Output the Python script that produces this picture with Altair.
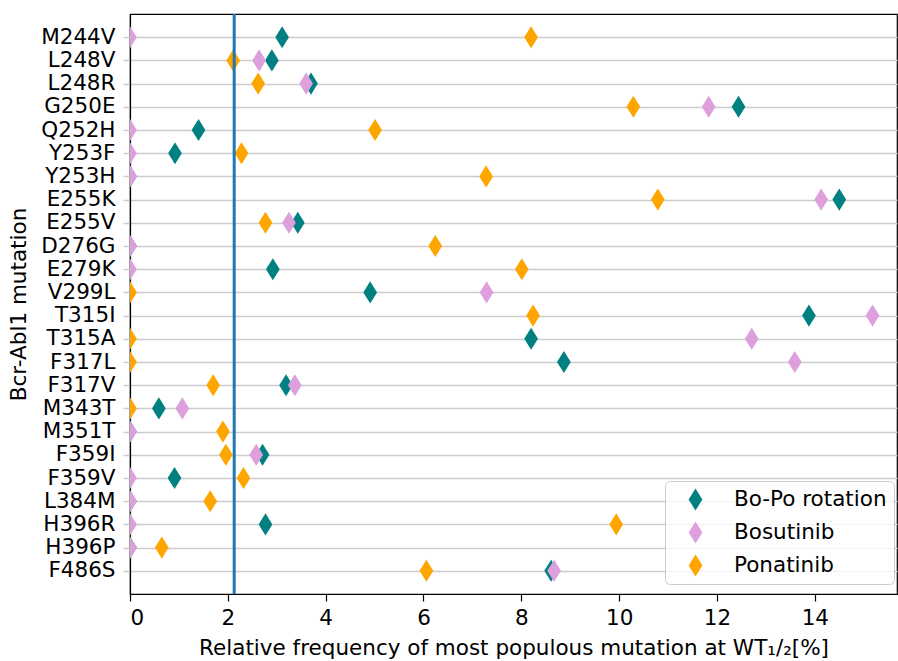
import altair as alt
import pandas as pd

mutations = ["M244V", "L248V", "L248R", "G250E", "Q252H", "Y253F", "Y253H", "E255K",
             "E255V", "D276G", "E279K", "V299L", "T315I", "T315A", "F317L", "F317V",
             "M343T", "M351T", "F359I", "F359V", "L384M", "H396R", "H396P", "F486S"]

bopo = [3.11, 2.90, 3.70, 12.44, 1.40, 0.92, 0.0, 14.50,
        3.43, 0.0, 2.92, 4.91, 13.88, 8.20, 8.87, 3.19,
        0.59, 0.0, 2.71, 0.91, 0.0, 2.77, 0.0, 8.61]

bosutinib = [0.0, 2.64, 3.60, 11.83, 0.0, 0.0, 0.0, 14.13,
             3.25, 0.0, 0.0, 7.29, 15.18, 12.71, 13.59, 3.37,
             1.07, 0.0, 2.58, 0.0, 0.0, 0.0, 0.0, 8.67]

ponatinib = [8.20, 2.11, 2.62, 10.29, 5.01, 2.28, 7.28, 10.79,
             2.77, 6.24, 8.01, 0.0, 8.24, 0.0, 0.0, 1.70,
             0.0, 1.90, 1.96, 2.32, 1.64, 9.94, 0.65, 6.06]

series_names = ["Bo-Po rotation", "Bosutinib", "Ponatinib"]
series_colors = ["#008080", "#DDA0DD", "#FFA500"]
threshold = [2.13]
x_ticks = [0, 2, 4, 6, 8, 10, 12, 14]
x_max = 15.68

rows = []
for name, vals in zip(series_names, [bopo, bosutinib, ponatinib]):
    for m, v in zip(mutations, vals):
        rows.append({"mutation": m, "value": v, "series": name})
df = pd.DataFrame(rows)
df_line = pd.DataFrame({"t": threshold})

thin_diamond = "M0,-1L0.62,0L0,1L-0.62,0Z"
FONT = "DejaVu Sans"
FS = 21.5

x_scale = alt.Scale(domain=[0, x_max], nice=False, zero=False)

points = alt.Chart(df).mark_point(
    filled=True, opacity=1, size=490, shape=thin_diamond, clip=True
).encode(
    x=alt.X("value:Q", scale=x_scale,
            title="Relative frequency of most populous mutation at WT₁/₂[%]",
            axis=alt.Axis(values=x_ticks, grid=False, tickSize=7, tickColor="black",
                          tickWidth=1.2, labelPadding=6, titlePadding=9,
                          domainColor="black", domainWidth=1.2)),
    y=alt.Y("mutation:N", sort=mutations, scale=alt.Scale(type="point", padding=1),
            title="Bcr-Abl1 mutation",
            axis=alt.Axis(grid=True, gridColor="#cccccc", gridWidth=1.5,
                          tickColor="#cccccc", tickWidth=1.5, tickSize=7,
                          labelPadding=8, titlePadding=10,
                          domainColor="black", domainWidth=1.2)),
    color=alt.Color("series:N",
                    scale=alt.Scale(domain=series_names, range=series_colors),
                    legend=alt.Legend(title=None, orient="none", legendX=535, legendY=467,
                                      padding=7, symbolOffset=12, labelOffset=27,
                                      rowPadding=10, symbolSize=490, symbolType=thin_diamond,
                                      symbolStrokeWidth=0,
                                      fillColor="rgba(255,255,255,0.8)", strokeColor="#cccccc",
                                      cornerRadius=5, labelFontSize=FS, labelFont=FONT,
                                      labelColor="black")),
)

rule = alt.Chart(df_line).mark_rule(color="#1f77b4", strokeWidth=3).encode(
    x=alt.X("t:Q", scale=x_scale)
)

chart = alt.layer(points, rule).properties(
    width=767, height=580,
    padding={"left": 130, "top": 14, "right": 1, "bottom": 67},
    autosize=alt.AutoSizeParams(type="none"),
).configure_view(
    stroke="black", strokeWidth=1.2
).configure_axis(
    labelFont=FONT, titleFont=FONT, labelFontSize=FS, titleFontSize=FS,
    titleFontWeight="normal", labelColor="black", titleColor="black"
)

chart.save("out.html", embed_options={"renderer": "svg", "actions": False})
